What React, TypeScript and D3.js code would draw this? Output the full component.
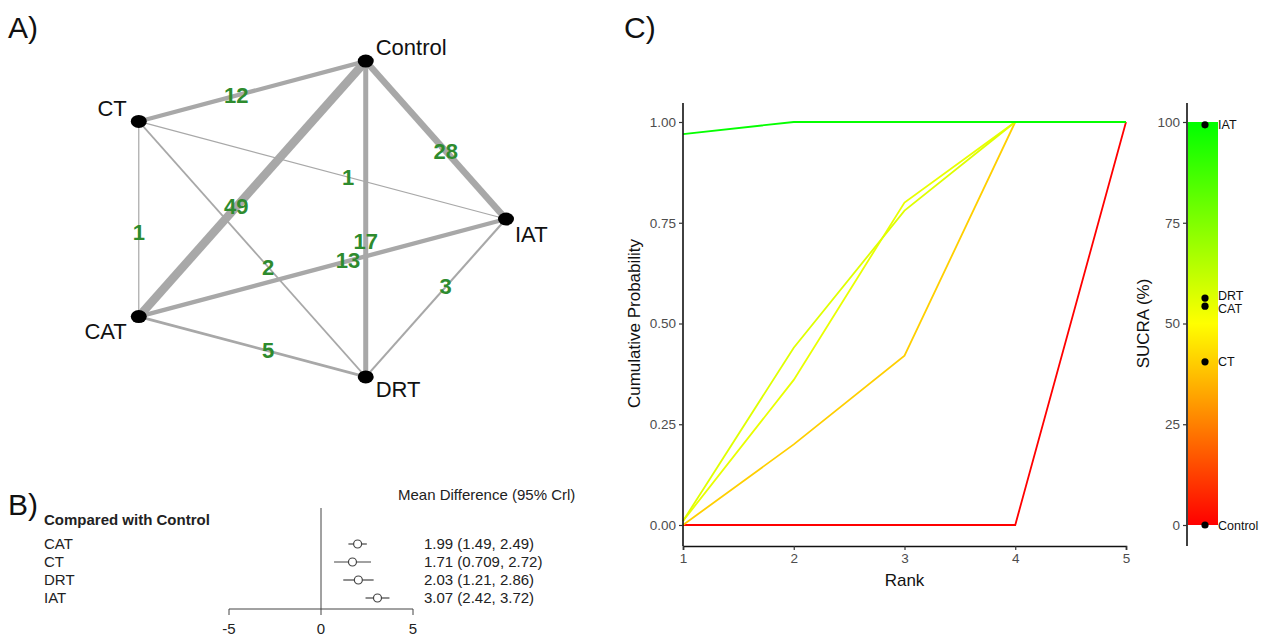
import React, { useEffect, useRef } from 'react';
import * as d3 from 'd3';

// --- A) network ---
const treatments = ['Control', 'CT', 'CAT', 'DRT', 'IAT'];
const layoutAngles = [72, 144, 216, 288, 0]; // circular layout, degrees
const edgeFrom = ['Control', 'Control', 'Control', 'Control', 'CT', 'CT', 'CT', 'CAT', 'CAT', 'DRT'];
const edgeTo = ['CT', 'CAT', 'DRT', 'IAT', 'CAT', 'DRT', 'IAT', 'DRT', 'IAT', 'IAT'];
const edgeStudies = [12, 49, 17, 28, 1, 2, 1, 5, 13, 3];

// --- B) forest ---
const comparisons = ['CAT', 'CT', 'DRT', 'IAT'];
const meanDiff = [1.99, 1.71, 2.03, 3.07];
const lowerCrI = [1.49, 0.709, 1.21, 2.42];
const upperCrI = [2.49, 2.72, 2.86, 3.72];
const forestTicks = [-5, 0, 5];

// --- C) ranking ---
const ranks = [1, 2, 3, 4, 5];
const cumIAT = [0.97, 1, 1, 1, 1];
const cumDRT = [0.01, 0.44, 0.78, 1, 1];
const cumCAT = [0.01, 0.36, 0.8, 1, 1];
const cumCT = [0.0, 0.2, 0.42, 1, 1];
const cumControl = [0, 0, 0, 0, 1];
const sucraNames = ['IAT', 'DRT', 'CAT', 'CT', 'Control'];
const sucraValues = [99.3, 56.3, 54.3, 40.5, 0];
const probTicks = [0, 0.25, 0.5, 0.75, 1];
const sucraTicks = [0, 25, 50, 75, 100];

const FONT = 'Liberation Sans, Arial, Helvetica, sans-serif';

export default function App() {
  const ref = useRef<SVGSVGElement>(null);

  useEffect(() => {
    const svg = d3.select(ref.current);
    svg.selectAll('*').remove();

    // panel letters
    [['A)', 8, 38], ['B)', 8, 515], ['C)', 624, 38]].forEach(([t, x, y]) => {
      svg.append('text').attr('x', x).attr('y', y).text(t as string)
        .style('font-family', FONT).style('font-size', '30px').style('fill', '#111');
    });

    // ---------- A) network ----------
    const nx = d3.scaleLinear().domain([-1, 1]).range([100, 506]);
    const ny = d3.scaleLinear().domain([-1, 1]).range([385, 53]);
    const pos: Record<string, [number, number]> = {};
    treatments.forEach((t, i) => {
      const a = (layoutAngles[i] * Math.PI) / 180;
      pos[t] = [nx(Math.cos(a)), ny(Math.sin(a))];
    });
    const widthScale = d3.scaleSqrt().domain([0, 49]).range([0, 8.5]);
    const net = svg.append('g');
    const edges = edgeFrom.map((f, i) => ({ f, t: edgeTo[i], n: edgeStudies[i] }));
    net.selectAll('line').data(edges).enter().append('line')
      .attr('x1', d => pos[d.f][0]).attr('y1', d => pos[d.f][1])
      .attr('x2', d => pos[d.t][0]).attr('y2', d => pos[d.t][1])
      .style('stroke', '#a8a8a8')
      .style('stroke-width', d => Math.max(1, widthScale(d.n)));

    net.selectAll('ellipse').data(treatments).enter().append('ellipse')
      .attr('cx', d => pos[d][0]).attr('cy', d => pos[d][1])
      .attr('rx', 8).attr('ry', 6.5).style('fill', '#000');

    const nodeLabel: Record<string, [number, number, string]> = {
      Control: [10, -6, 'start'], CT: [-12, -5, 'end'], IAT: [9, 23, 'start'],
      CAT: [-12, 22, 'end'], DRT: [10, 20, 'start'],
    };
    net.selectAll('text.node').data(treatments).enter().append('text')
      .attr('class', 'node')
      .attr('x', d => pos[d][0] + nodeLabel[d][0])
      .attr('y', d => pos[d][1] + nodeLabel[d][1])
      .attr('text-anchor', d => nodeLabel[d][2])
      .text(d => d)
      .style('font-family', FONT).style('font-size', '22px').style('fill', '#111');

    const tPos = 0.57;
    net.selectAll('text.count').data(edges).enter().append('text')
      .attr('class', 'count')
      .attr('x', d => pos[d.f][0] + (pos[d.t][0] - pos[d.f][0]) * tPos)
      .attr('y', d => pos[d.f][1] + (pos[d.t][1] - pos[d.f][1]) * tPos)
      .attr('text-anchor', 'middle').attr('dominant-baseline', 'central')
      .text(d => d.n)
      .style('font-family', FONT).style('font-size', '22px').style('font-weight', 'bold')
      .style('fill', '#2e8b2e');

    // ---------- B) forest ----------
    const fx = d3.scaleLinear().domain([-5, 5]).range([229, 413]);
    const fy = d3.scaleBand().domain(comparisons).range([535, 607]);
    const forest = svg.append('g').style('font-family', FONT).style('font-size', '15px');
    forest.append('text').attr('x', 398).attr('y', 500).text('Mean Difference (95% Crl)').style('fill', '#222');
    forest.append('text').attr('x', 44).attr('y', 525).text('Compared with Control')
      .style('font-weight', 'bold').style('fill', '#222');
    forest.append('line').attr('x1', fx(0)).attr('x2', fx(0)).attr('y1', 508).attr('y2', 609)
      .style('stroke', '#444').style('stroke-width', 1);
    forest.append('line').attr('x1', fx(-5)).attr('x2', fx(5)).attr('y1', 609).attr('y2', 609)
      .style('stroke', '#444').style('stroke-width', 1);
    forestTicks.forEach(t => {
      forest.append('line').attr('x1', fx(t)).attr('x2', fx(t)).attr('y1', 609).attr('y2', 615)
        .style('stroke', '#444');
      forest.append('text').attr('x', fx(t)).attr('y', 634).attr('text-anchor', 'middle')
        .text(t).style('fill', '#222');
    });
    comparisons.forEach((c, i) => {
      const y = (fy(c) as number) + fy.bandwidth() / 2;
      forest.append('text').attr('x', 44).attr('y', y + 5).text(c).style('fill', '#222');
      forest.append('line').attr('x1', fx(lowerCrI[i])).attr('x2', fx(upperCrI[i]))
        .attr('y1', y).attr('y2', y).style('stroke', '#444').style('stroke-width', 1.2);
      forest.append('circle').attr('cx', fx(meanDiff[i])).attr('cy', y).attr('r', 4)
        .style('fill', '#fff').style('stroke', '#444').style('stroke-width', 1.2);
      forest.append('text').attr('x', 424).attr('y', y + 5)
        .text(`${meanDiff[i]} (${lowerCrI[i]}, ${upperCrI[i]})`).style('fill', '#222');
    });

    // ---------- C) cumulative ranking ----------
    const color = d3.scaleLinear<string>().domain([0, 50, 100]).range(['#ff0000', '#ffff00', '#00ff00']);
    const rx = d3.scaleLinear().domain([1, 5]).range([683, 1126]);
    const ry = d3.scaleLinear().domain([0, 1]).range([525, 122]);
    const c = svg.append('g').style('font-family', FONT);

    const series = [
      { name: 'Control', v: cumControl },
      { name: 'CT', v: cumCT },
      { name: 'CAT', v: cumCAT },
      { name: 'DRT', v: cumDRT },
      { name: 'IAT', v: cumIAT },
    ];
    const line = d3.line<number>().x((_, i) => rx(ranks[i])).y(d => ry(d));
    c.selectAll('path.rank').data(series).enter().append('path')
      .attr('class', 'rank')
      .attr('d', d => line(d.v))
      .style('fill', 'none')
      .style('stroke', d => color(sucraValues[sucraNames.indexOf(d.name)]))
      .style('stroke-width', 1.8);

    const yAxis = c.append('g').attr('transform', 'translate(683,0)')
      .call(d3.axisLeft(ry).tickValues(probTicks).tickFormat(d3.format('.2f')).tickSize(4).tickPadding(3));
    yAxis.select('.domain').attr('d', 'M0,103V546');
    const xAxis = c.append('g').attr('transform', 'translate(0,546)')
      .call(d3.axisBottom(rx).tickValues(ranks).tickFormat(d3.format('d')).tickSize(4).tickPadding(3));
    [yAxis, xAxis].forEach(ax => {
      ax.select('.domain').style('stroke', '#111').style('stroke-width', 1.6);
      ax.selectAll('.tick line').style('stroke', '#333').style('stroke-width', 1.2);
      ax.selectAll('.tick text').style('font-size', '13.5px').style('fill', '#4d4d4d').style('font-family', FONT);
    });
    c.append('text').attr('x', rx(3)).attr('y', 586).attr('text-anchor', 'middle').text('Rank')
      .style('font-size', '17px').style('fill', '#111');
    c.append('text').attr('transform', `translate(640,${ry(0.5)}) rotate(-90)`).attr('text-anchor', 'middle')
      .text('Cumulative Probability').style('font-size', '17px').style('fill', '#111');

    // SUCRA bar
    const defs = svg.append('defs');
    const grad = defs.append('linearGradient').attr('id', 'sucraGrad')
      .attr('x1', 0).attr('y1', 1).attr('x2', 0).attr('y2', 0);
    sucraTicks.forEach(t => {
      grad.append('stop').attr('offset', `${t}%`).attr('stop-color', color(t));
    });
    const sy = d3.scaleLinear().domain([0, 100]).range([525, 122]);
    c.append('rect').attr('x', 1188).attr('y', sy(100)).attr('width', 30).attr('height', sy(0) - sy(100))
      .style('fill', 'url(#sucraGrad)');
    const sAxis = c.append('g').attr('transform', 'translate(1187,0)')
      .call(d3.axisLeft(sy).tickValues(sucraTicks).tickSize(4).tickPadding(3));
    sAxis.select('.domain').attr('d', 'M0,103V546').style('stroke', '#111').style('stroke-width', 1.6);
    sAxis.selectAll('.tick line').style('stroke', '#333').style('stroke-width', 1.2);
    sAxis.selectAll('.tick text').style('font-size', '13.5px').style('fill', '#4d4d4d').style('font-family', FONT);
    c.selectAll('circle.sucra').data(sucraValues).enter().append('circle')
      .attr('class', 'sucra').attr('cx', 1205).attr('cy', d => sy(d)).attr('r', 3.6).style('fill', '#000');
    // small nudge so the close DRT / CAT labels do not collide
    const labelNudge: Record<string, number> = { DRT: -2.5, CAT: 2.5 };
    c.selectAll('text.sucra').data(sucraNames).enter().append('text')
      .attr('class', 'sucra').attr('x', 1218)
      .attr('y', (d, i) => sy(sucraValues[i]) + 4.5 + (labelNudge[d] || 0))
      .text(d => d).style('font-size', '12.5px').style('fill', '#111');
    c.append('text').attr('transform', `translate(1149,${sy(50)}) rotate(-90)`).attr('text-anchor', 'middle')
      .text('SUCRA (%)').style('font-size', '17px').style('fill', '#111');
  }, []);

  return (
    <svg ref={ref} width={1271} height={638}
      style={{ position: 'absolute', left: 0, top: 0, background: '#fff' }} />
  );
}
